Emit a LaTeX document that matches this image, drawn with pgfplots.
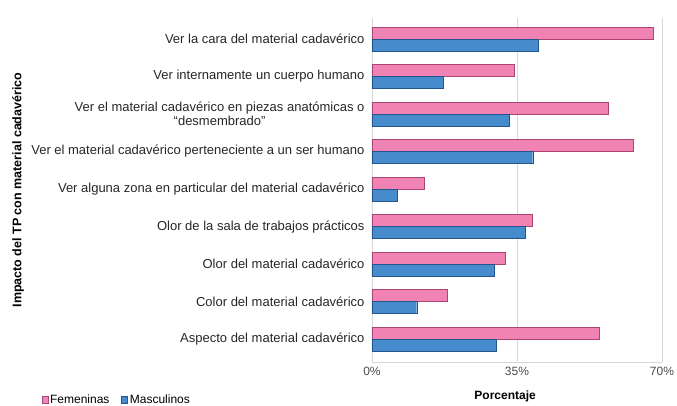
\documentclass[border=0pt]{standalone}
\usepackage{pgfplots}
\pgfplotsset{compat=1.18}
\usepackage{fontspec}
\setmainfont{Liberation Sans}
\definecolor{fem}{RGB}{240,130,180}
\definecolor{femd}{RGB}{170,70,115}
\definecolor{mas}{RGB}{70,140,205}
\definecolor{masd}{RGB}{35,85,140}
\definecolor{gridc}{RGB}{215,215,215}
\begin{document}
\begin{tikzpicture}
\begin{axis}[
  scale only axis,
  width=290pt, height=344pt,
  xbar, bar width=12pt,
  xmin=0, xmax=70,
  ymin=-0.56, ymax=8.61,
  y dir=reverse,
  axis x line*=bottom, axis y line*=left,
  ytick={0,...,8},
  yticklabels={Ver la cara del material cadavérico,
    Ver internamente un cuerpo humano,
    {Ver el material cadavérico en piezas anatómicas o\\``desmembrado''},
    Ver el material cadavérico perteneciente a un ser humano,
    Ver alguna zona en particular del material cadavérico,
    Olor de la sala de trabajos prácticos,
    Olor del material cadavérico,
    Color del material cadavérico,
    Aspecto del material cadavérico},
  yticklabel style={align=center, font=\fontsize{13}{14}\selectfont, text=black!85, xshift=-4pt},
  xtick={0,35,70},
  xticklabels={0\%,35\%,70\%},
  xticklabel style={font=\fontsize{12}{14}\selectfont, text=black!70, yshift=-2pt},
  major tick length=0pt,
  xmajorgrids, grid style={gridc},
  axis line style={gridc, -},
  xlabel={Porcentaje},
  xlabel style={font=\bfseries\fontsize{12}{14}\selectfont, at={(axis description cs:0.459,-0.100)}, anchor=center},
  ylabel={Impacto del TP con material cadavérico},
  ylabel style={font=\bfseries\fontsize{12.5}{14}\selectfont, at={(axis description cs:-1.22,0.5)}, anchor=center},
  legend columns=2,
  legend style={draw=none, fill=none, font=\fontsize{12}{14}\selectfont,
    at={(axis description cs:-1.15,-0.110)}, anchor=west,
    /tikz/every even column/.append style={column sep=10pt}},
  legend image code/.code={\fill[#1] (0pt,-3.5pt) rectangle (6pt,3.5pt);},
]
\addplot[fill=fem, draw=femd, line width=0.4pt, bar shift=6pt] coordinates {
(67.9,0) (34.4,1) (57.1,2) (63.1,3) (12.6,4) (38.6,5) (32.1,6) (18.2,7) (54.9,8)};
\addplot[fill=mas, draw=masd, line width=0.4pt, bar shift=-6pt] coordinates {
(40.2,0) (17.2,1) (33.1,2) (38.8,3) (6.0,4) (37.0,5) (29.5,6) (10.8,7) (30.1,8)};
\legend{Femeninas, Masculinos}
\end{axis}
\pgfresetboundingbox
\path[use as bounding box] (-372pt,-44pt) rectangle (305pt,362pt);
\end{tikzpicture}
\end{document}
